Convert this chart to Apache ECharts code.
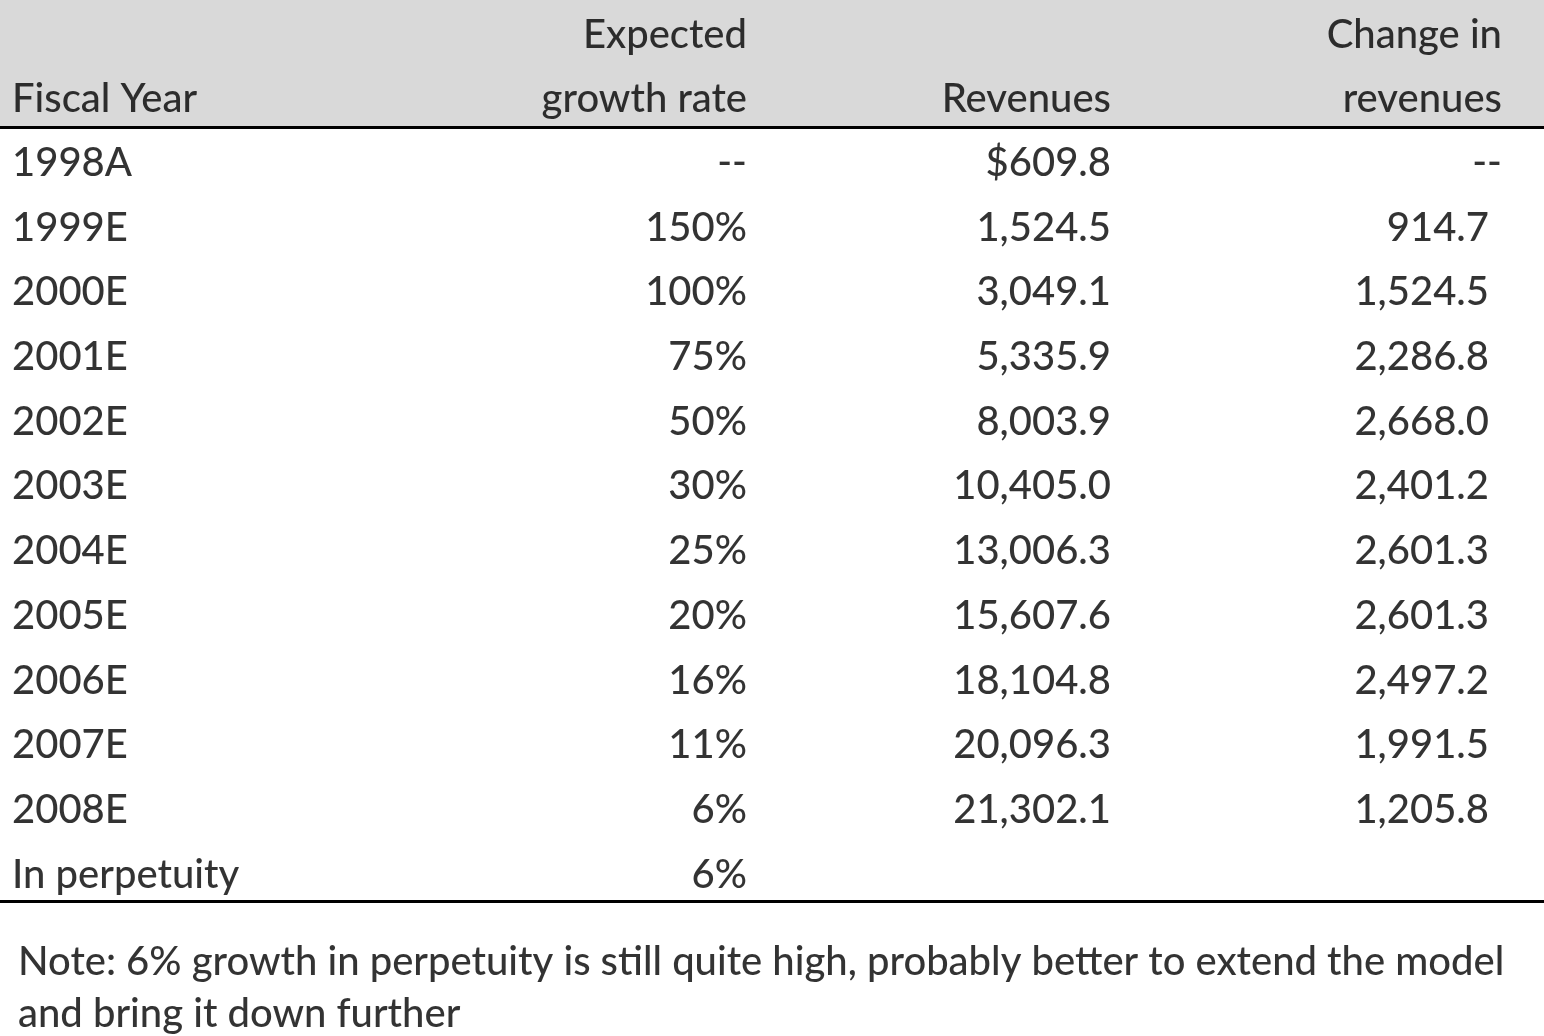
<!DOCTYPE html>
<html><head><meta charset="utf-8">
<script src="https://cdn.jsdelivr.net/npm/echarts@6/dist/echarts.min.js"></script>
<style>html,body{margin:0;background:#fff}#c{width:1544px;height:1036px}</style>
</head><body><div id="c"></div>
<script>
const years = ['1998A','1999E','2000E','2001E','2002E','2003E','2004E','2005E','2006E','2007E','2008E','In perpetuity'];
const growth = ['--','150%','100%','75%','50%','30%','25%','20%','16%','11%','6%','6%'];
const revenues = ['$609.8','1,524.5','3,049.1','5,335.9','8,003.9','10,405.0','13,006.3','15,607.6','18,104.8','20,096.3','21,302.1',''];
const changes = ['--','914.7','1,524.5','2,286.8','2,668.0','2,401.2','2,601.3','2,601.3','2,497.2','1,991.5','1,205.8',''];
const headers = [['', 'Fiscal Year'], ['Expected', 'growth rate'], ['', 'Revenues'], ['Change in', 'revenues']];
const note = ['Note: 6% growth in perpetuity is still quite high, probably better to extend the model', 'and bring it down further'];

// layout
const colX = [12, 747, 1111, 1489];
const firstRow = 163, rowH = 64.7;
const font = 'Lato';
const fs = 40;

const pts = [];
function add(x, y, t, align) { if (t) pts.push({ value: [x, y], name: t, label: { align: align } }); }
headers.forEach((h, c) => {
  const x = c === 3 ? 1502 : colX[c];
  add(x, 35, h[0], c === 0 ? 'left' : 'right');
  add(x, 99, h[1], c === 0 ? 'left' : 'right');
});
years.forEach((y, i) => {
  const yy = firstRow + i * rowH;
  add(colX[0], yy, y, 'left');
  add(colX[1], yy, growth[i], 'right');
  add(colX[2], yy, revenues[i], 'right');
  add(changes[i] === '--' ? 1502 : colX[3], yy, changes[i], 'right');
});
note.forEach((n, i) => add(18, 962 + i * 52, n, 'left'));

const chart = echarts.init(document.getElementById('c'));
chart.setOption({
  animation: false,
  grid: { left: 0, right: 0, top: 0, bottom: 0 },
  xAxis: { type: 'value', min: 0, max: 1544, show: false },
  yAxis: { type: 'value', min: 0, max: 1036, inverse: true, show: false },
  graphic: [
    { type: 'rect', shape: { x: 0, y: 0, width: 1544, height: 127 }, style: { fill: '#d9d9d9' }, z: -1 },
    { type: 'rect', shape: { x: 0, y: 126, width: 1544, height: 3 }, style: { fill: '#000' } },
    { type: 'rect', shape: { x: 0, y: 900, width: 1544, height: 3 }, style: { fill: '#000' } }
  ],
  series: [{
    type: 'scatter', symbolSize: 0, data: pts,
    label: { show: true, position: 'inside', formatter: p => p.name, color: '#000', fontFamily: font, fontSize: fs, fontWeight: 500, verticalAlign: 'middle' }
  }]
});
</script></body></html>
